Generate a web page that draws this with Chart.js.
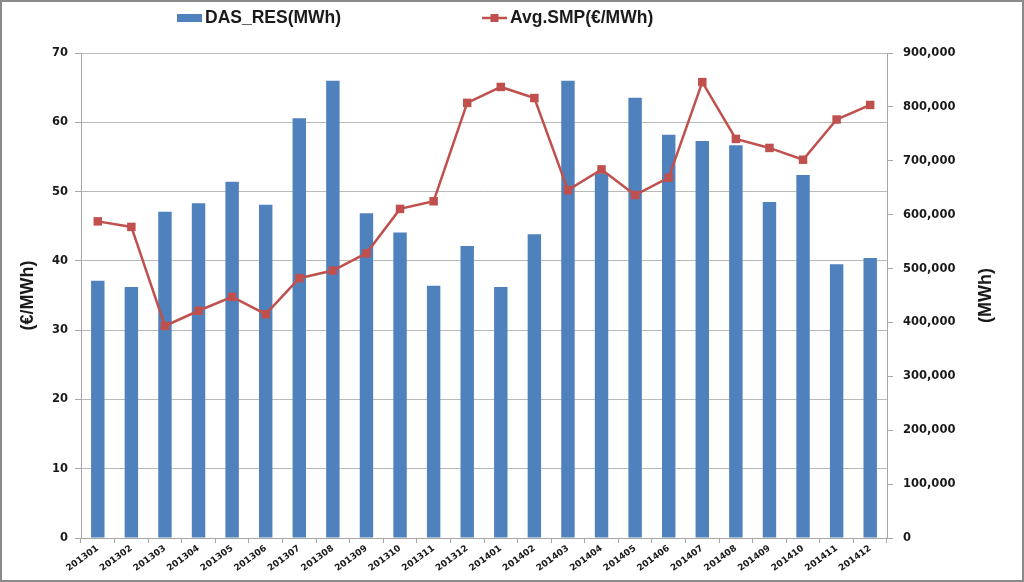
<!DOCTYPE html>
<html>
<head>
<meta charset="utf-8">
<script src="https://cdn.jsdelivr.net/npm/chart.js@4/dist/chart.umd.min.js"></script>
<style>
html,body{margin:0;padding:0;background:#fff;}
#wrap{position:relative;width:1024px;height:582px;}
canvas{display:block;}
</style>
</head>
<body>
<div id="wrap"><canvas id="c" width="1024" height="582"></canvas></div>
<script>
const categories = ['201301','201302','201303','201304','201305','201306','201307','201308','201309','201310','201311','201312',
                    '201401','201402','201403','201404','201405','201406','201407','201408','201409','201410','201411','201412'];
const dasRes = [477500, 466000, 605500, 621000, 661000, 618500, 779000, 848600, 602500, 567000, 468000, 542000,
                466000, 563500, 848600, 676700, 817000, 748400, 736700, 729000, 623500, 673600, 508000, 519600];
const avgSmp = [45.7, 44.9, 30.6, 32.8, 34.8, 32.3, 37.5, 38.6, 41.1, 47.5, 48.6, 62.8,
                65.1, 63.5, 50.2, 53.2, 49.5, 52.0, 65.8, 57.6, 56.3, 54.6, 60.4, 62.5];
const seriesNames = ['DAS_RES(MWh)', 'Avg.SMP(€/MWh)'];
const leftTitle = '(€/MWh)';
const rightTitle = '(MWh)';

const BLUE = '#4F81BD';
const RED = '#C0504D';
const GRID = '#b9b9b9';
const AXIS = '#a6a6a6';
const TXT = '#1a1a1a';

const extras = {
  id: 'extras',
  beforeDraw(chart) {
    const ctx = chart.ctx;
    ctx.save();
    ctx.fillStyle = '#fff';
    ctx.fillRect(0, 0, chart.width, chart.height);
    ctx.restore();
  },
  afterDraw(chart) {
    const ctx = chart.ctx;
    const ca = chart.chartArea;
    ctx.save();
    // legend
    ctx.font = 'bold 17.5px "Liberation Sans", Arial, sans-serif';
    ctx.textBaseline = 'middle';
    ctx.fillStyle = BLUE;
    ctx.fillRect(177, 14, 25, 8);
    ctx.fillStyle = TXT;
    ctx.textAlign = 'left';
    ctx.fillText(seriesNames[0], 205, 18);
    ctx.strokeStyle = RED;
    ctx.lineWidth = 2.5;
    ctx.beginPath();
    ctx.moveTo(482, 18); ctx.lineTo(507, 18);
    ctx.stroke();
    ctx.fillStyle = RED;
    ctx.fillRect(490.5, 14, 8, 8);
    ctx.fillStyle = TXT;
    ctx.fillText(seriesNames[1], 510, 18);
    // right axis title (reads bottom to top)
    ctx.font = 'bold 18px "Liberation Sans", Arial, sans-serif';
    ctx.translate(986, (ca.top + ca.bottom) / 2);
    ctx.rotate(-Math.PI / 2);
    ctx.textAlign = 'center';
    ctx.fillText(rightTitle, 0, 0);
    ctx.restore();
    // frame
    ctx.save();
    ctx.strokeStyle = '#8a8a8a';
    ctx.lineWidth = 2;
    ctx.strokeRect(1, 1, chart.width - 2, chart.height - 2);
    ctx.restore();
  }
};

Chart.defaults.font.family = '"DejaVu Sans", Verdana, sans-serif';
Chart.defaults.color = TXT;

new Chart(document.getElementById('c'), {
  type: 'bar',
  data: {
    labels: categories,
    datasets: [
      {
        type: 'line',
        label: seriesNames[1],
        data: avgSmp,
        yAxisID: 'y',
        borderColor: RED,
        backgroundColor: RED,
        borderWidth: 2.5,
        pointStyle: 'rect',
        pointRadius: 6,
        pointBorderWidth: 0,
        pointBackgroundColor: RED,
        tension: 0,
        order: 0
      },
      {
        type: 'bar',
        label: seriesNames[0],
        data: dasRes,
        yAxisID: 'y1',
        backgroundColor: BLUE,
        borderWidth: 0,
        barPercentage: 0.4,
        categoryPercentage: 1.0,
        order: 1
      }
    ]
  },
  options: {
    responsive: false,
    animation: false,
    devicePixelRatio: 1,
    layout: { padding: { top: 53, left: 0, right: 0, bottom: 0 } },
    plugins: {
      legend: { display: false },
      tooltip: { enabled: false },
      title: { display: false }
    },
    scales: {
      x: {
        offset: true,
        grid: { display: true, drawOnChartArea: false, drawTicks: true, tickLength: 5, color: AXIS, offset: true },
        border: { display: true, color: AXIS, width: 1 },
        ticks: {
          autoSkip: false, maxRotation: 36, minRotation: 36, padding: 0,
          font: { size: 9, weight: 'bold' }, color: TXT
        },
        afterFit(s) { s.height = 44; }
      },
      y: {
        position: 'left',
        min: 0, max: 70,
        ticks: { stepSize: 10, padding: 7, font: { size: 11.5, weight: 'bold' }, color: TXT },
        grid: { color: GRID, tickLength: 6, drawTicks: true, tickColor: AXIS },
        border: { display: true, color: AXIS, width: 1 },
        title: {
          display: true, text: leftTitle, color: TXT,
          font: { size: 18, weight: 'bold', family: '"Liberation Sans", Arial, sans-serif' },
          padding: { top: 17, bottom: 0 }
        },
        afterFit(s) { s.width = 81; }
      },
      y1: {
        position: 'right',
        min: 0, max: 900000,
        ticks: {
          stepSize: 100000, padding: 10, font: { size: 11.5, weight: 'bold' }, color: TXT,
          callback: (v) => Number(v).toLocaleString('en-US')
        },
        grid: { drawOnChartArea: false, tickLength: 6, drawTicks: true, color: AXIS },
        border: { display: true, color: AXIS, width: 1 },
        afterFit(s) { s.width = 137; }
      }
    }
  },
  plugins: [extras]
});
</script>
</body>
</html>
